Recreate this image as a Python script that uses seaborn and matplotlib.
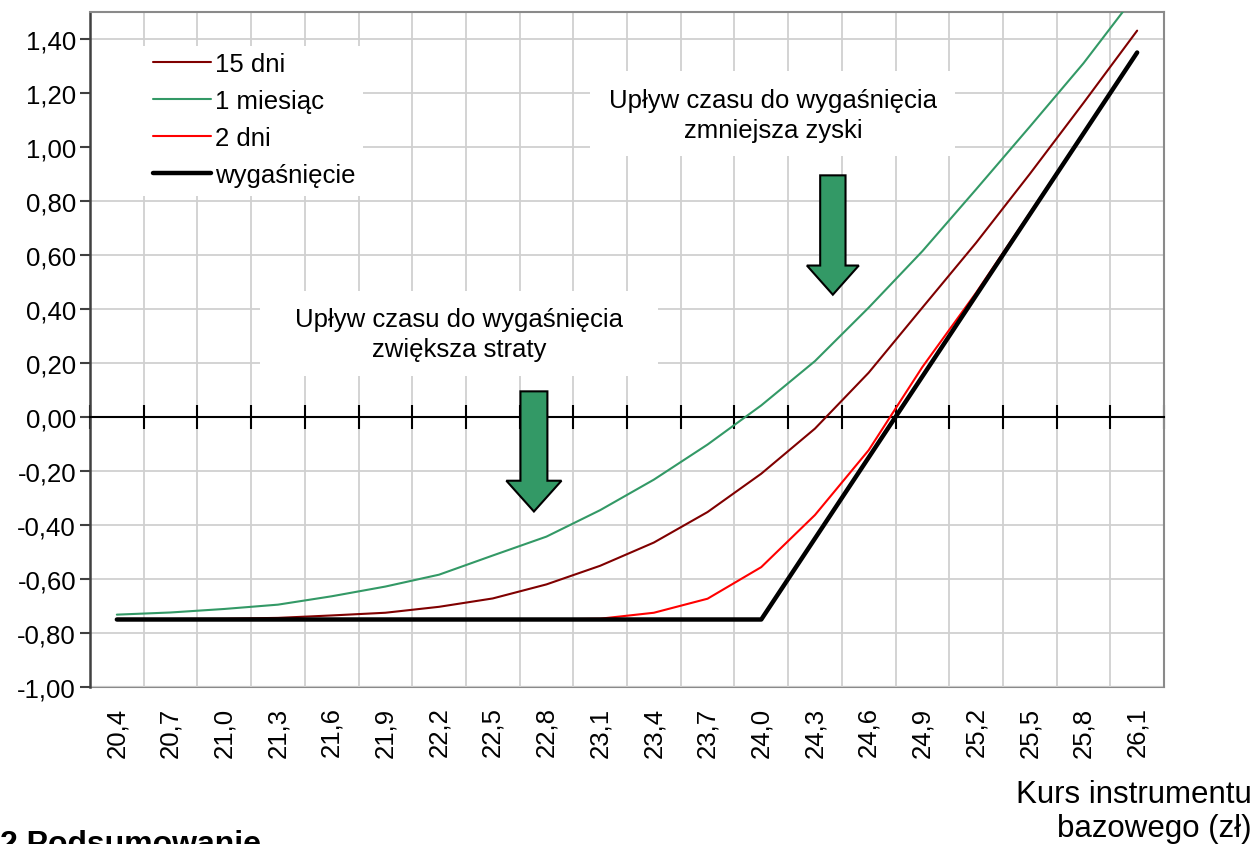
import numpy as np
import pandas as pd
import matplotlib
matplotlib.use("Agg")
import matplotlib.pyplot as plt
from matplotlib.patches import Rectangle, Polygon
import seaborn as sns

# ---- data ----
kurs = [20.4, 20.7, 21.0, 21.3, 21.6, 21.9, 22.2, 22.5, 22.8, 23.1,
        23.4, 23.7, 24.0, 24.3, 24.6, 24.9, 25.2, 25.5, 25.8, 26.1]
kurs_labels = ["20,4", "20,7", "21,0", "21,3", "21,6", "21,9", "22,2", "22,5", "22,8", "23,1",
               "23,4", "23,7", "24,0", "24,3", "24,6", "24,9", "25,2", "25,5", "25,8", "26,1"]
dni15 = [-0.748, -0.748, -0.747, -0.744, -0.735, -0.725, -0.703, -0.672, -0.620, -0.551,
         -0.465, -0.352, -0.210, -0.043, 0.164, 0.405, 0.645, 0.900, 1.163, 1.431]
miesiac1 = [-0.732, -0.724, -0.711, -0.695, -0.664, -0.628, -0.584, -0.513, -0.443, -0.345,
            -0.232, -0.102, 0.043, 0.207, 0.405, 0.614, 0.843, 1.075, 1.310, 1.570]
dni2 = [-0.750, -0.750, -0.750, -0.750, -0.750, -0.750, -0.750, -0.750, -0.750, -0.747,
        -0.725, -0.673, -0.556, -0.363, -0.123, 0.185, 0.460, 0.755, 1.052, 1.351]
wygasniecie = [-0.75, -0.75, -0.75, -0.75, -0.75, -0.75, -0.75, -0.75, -0.75, -0.75,
               -0.75, -0.75, -0.75, -0.45, -0.15, 0.15, 0.45, 0.75, 1.05, 1.35]
series_names = ["15 dni", "1 miesiąc", "2 dni", "wygaśnięcie"]
series_values = [dni15, miesiac1, dni2, wygasniecie]
series_colors = ["#800000", "#339966", "#FF0000", "#000000"]
series_widths = [1.5, 1.5, 1.5, 3.2]
y_ticks = [-1.0, -0.8, -0.6, -0.4, -0.2, 0.0, 0.2, 0.4, 0.6, 0.8, 1.0, 1.2, 1.4]

sns.set_style("white")
plt.rcParams['font.family'] = ['Liberation Sans', 'DejaVu Sans']
plt.rcParams['text.color'] = 'black'
plt.rcParams['xtick.color'] = 'black'
plt.rcParams['ytick.color'] = 'black'
plt.rcParams['axes.labelcolor'] = 'black'
FS = 18.5

W, H = 1257, 845
fig = plt.figure(figsize=(W / 100, H / 100), dpi=100)
ax = fig.add_axes([90 / W, 1 - 688 / H, 1074 / W, 675 / H])

df = pd.DataFrame({
    "kurs": np.tile(kurs, len(series_names)),
    "wartosc": np.concatenate(series_values),
    "seria": np.repeat(series_names, len(kurs)),
})
for name, col, lw in zip(series_names, series_colors, series_widths):
    sns.lineplot(data=df[df["seria"] == name], x="kurs", y="wartosc", color=col,
                 linewidth=lw, label=name, ax=ax, zorder=3, legend=False)

step = kurs[1] - kurs[0]
ax.set_xlim(kurs[0] - step / 2, kurs[-1] + step / 2)
ax.set_ylim(-1.0, 1.5)

# grid
bounds = [k - step / 2 for k in kurs] + [kurs[-1] + step / 2]
ax.set_xticks(kurs)
ax.set_xticks(bounds, minor=True)
ax.tick_params(axis='x', which='major', length=0, labelbottom=False, bottom=True)
ax.tick_params(axis='x', which='minor', direction='inout', length=17, width=1.5,
               color='black', labelbottom=False, bottom=True)
ax.set_yticks(y_ticks)
ax.set_yticklabels([f"{v:.2f}".replace(".", ",") for v in y_ticks], fontsize=FS)
ax.tick_params(axis='y', which='major', direction='out', length=7, width=1.5,
               color='#404040', pad=3, left=True)
ax.set_axisbelow(True)
ax.grid(True, which='minor', axis='x', color='#d0d0d0', linewidth=1.3)
ax.grid(True, which='major', axis='y', color='#d0d0d0', linewidth=1.3)
ax.grid(False, which='major', axis='x')

# spines
ax.spines['bottom'].set_position(('data', 0))
ax.spines['bottom'].set_color('black')
ax.spines['bottom'].set_linewidth(1.5)
ax.spines['bottom'].set_zorder(2.5)
ax.spines['left'].set_color('#404040')
ax.spines['left'].set_linewidth(1.8)
for s in ['top', 'right']:
    ax.spines[s].set_color('#8a8a8a')
    ax.spines[s].set_linewidth(1.5)

sec = ax.secondary_xaxis(0.0)
sec.set_xticks(kurs)
sec.set_xticklabels(kurs_labels, rotation=90, fontsize=FS)
sec.tick_params(length=0, pad=14)
sec.spines['bottom'].set_color('#8a8a8a')
sec.spines['bottom'].set_linewidth(1.5)

ax.set_xlabel("")
ax.set_ylabel("")

# white boxes behind legend and annotations
ax.add_patch(Rectangle((0.0, (688 - 197) / 675), (363 - 90) / 1074, 150 / 675,
                       transform=ax.transAxes, facecolor='white', edgecolor='none', zorder=1))
ax.add_patch(Rectangle(((260 - 90) / 1074, (688 - 377) / 675), 398 / 1074, 85 / 675,
                       transform=ax.transAxes, facecolor='white', edgecolor='none', zorder=1))
ax.add_patch(Rectangle(((590 - 90) / 1074, (688 - 157) / 675), 365 / 1074, 85 / 675,
                       transform=ax.transAxes, facecolor='white', edgecolor='none', zorder=1))

ax.text((459 - 90) / 1074, (688 - 335) / 675,
        "Upływ czasu do wygaśnięcia\nzwiększa straty", transform=ax.transAxes,
        ha='center', va='center', fontsize=FS, linespacing=1.3, zorder=4)
ax.text((773 - 90) / 1074, (688 - 116) / 675,
        "Upływ czasu do wygaśnięcia\nzmniejsza zyski", transform=ax.transAxes,
        ha='center', va='center', fontsize=FS, linespacing=1.3, zorder=4)

# block arrows
def block_arrow(xc, shaft_hw, head_hw, y_top, y_base, y_tip):
    pts = [(xc - shaft_hw, y_top), (xc + shaft_hw, y_top), (xc + shaft_hw, y_base),
           (xc + head_hw, y_base), (xc, y_tip), (xc - head_hw, y_base),
           (xc - shaft_hw, y_base)]
    ax.add_patch(Polygon(pts, closed=True, facecolor='#339966', edgecolor='black',
                         linewidth=1.5, zorder=5))

block_arrow(22.73, 0.0753, 0.154, 0.095, -0.236, -0.350)
block_arrow(24.40, 0.0708, 0.145, 0.895, 0.561, 0.453)

leg = ax.legend(loc='upper left', bbox_to_anchor=((153 - 90) / 1074, (688 - 53) / 675),
                frameon=False, fontsize=FS, handlelength=2.25, handletextpad=0.15,
                labelspacing=0.5, borderpad=0, borderaxespad=0)
leg.set_zorder(6)

fig.text(1252 / W, 1 - 812 / H, "Kurs instrumentu\nbazowego (zł)", ha='right',
         va='center', multialignment='right', fontsize=22.5, linespacing=1.15)
fig.text(0.0, 1 - 830 / H, "2 Podsumowanie", ha='left', va='top', fontsize=23,
         fontweight='bold')

fig.savefig("out.png", dpi=100)
